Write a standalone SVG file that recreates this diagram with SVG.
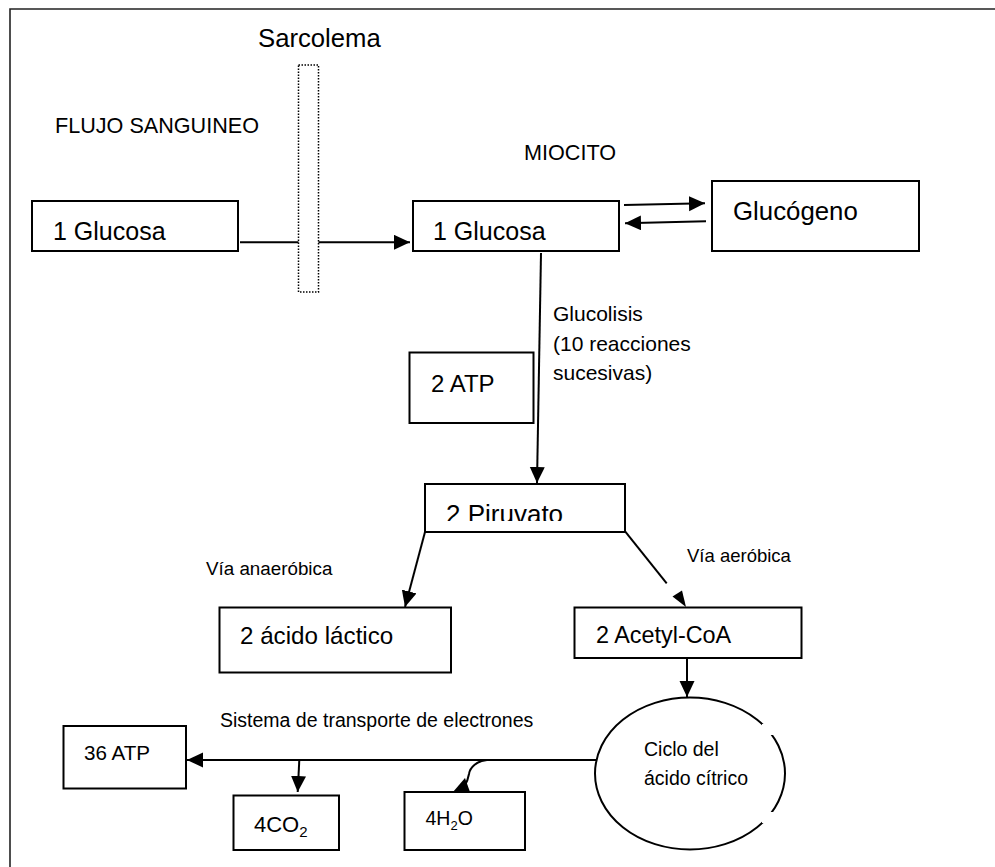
<svg xmlns="http://www.w3.org/2000/svg" width="995" height="867" viewBox="0 0 995 867">
<style>
text{font-family:"Liberation Sans",Arial,sans-serif;fill:#000}
.box{fill:#fff;stroke:#000;stroke-width:2}
.ln{fill:none;stroke:#000;stroke-width:2}
.lg{font-size:25px}
.md{font-size:21px}
.sm{font-size:19.5px}
</style>
<defs>
<marker id="ah" markerUnits="userSpaceOnUse" markerWidth="17" markerHeight="16" refX="16" refY="7.5" orient="auto">
<path d="M0,0 L16,7.5 L0,15 z" fill="#000"/>
</marker>
<clipPath id="pirclip"><rect x="425" y="484" width="200" height="37"/></clipPath>
</defs>
<rect width="995" height="867" fill="#fff"/>
<path d="M10,867 V9 H995" fill="none" stroke="#222" stroke-width="1.6"/>

<g id="labels">
<text x="258" y="46.5" style="font-size:25.7px">Sarcolema</text>
<text x="55" y="133" style="font-size:21.6px">FLUJO SANGUINEO</text>
<text x="524" y="160" style="font-size:21.6px">MIOCITO</text>
<text x="553" y="321" class="md">Glucolisis</text>
<text x="553" y="350.5" class="md">(10 reacciones</text>
<text x="553" y="380" class="md">sucesivas)</text>
<text x="206" y="575" style="font-size:18.8px">Vía anaeróbica</text>
<text x="687" y="562" style="font-size:18.5px">Vía aeróbica</text>
<text x="220" y="727" class="sm">Sistema de transporte de electrones</text>
</g>

<g id="connectors">
<line x1="240" y1="242.3" x2="410" y2="242.3" class="ln" marker-end="url(#ah)"/>
<line x1="624" y1="205" x2="705" y2="203.3" class="ln" marker-end="url(#ah)"/>
<line x1="706" y1="221.3" x2="625" y2="223.3" class="ln" marker-end="url(#ah)"/>
<line x1="541" y1="253" x2="537" y2="483" class="ln" stroke-width="1.7" marker-end="url(#ah)"/>
<line x1="425" y1="532" x2="405" y2="607" class="ln" marker-end="url(#ah)"/>
<line x1="625.3" y1="531.7" x2="666.7" y2="583.3" class="ln"/>
<path d="M686,607 L672.5,596.5 L682,590.5 z" fill="#000"/>
<line x1="687" y1="658" x2="687" y2="697" class="ln" marker-end="url(#ah)"/>
<line x1="597" y1="760" x2="187" y2="760" class="ln" stroke-width="2.3" marker-end="url(#ah)"/>
<line x1="299.3" y1="760" x2="297.7" y2="792" class="ln" marker-end="url(#ah)"/>
<path d="M487,760 C477,761 470,767 469,774 C468,780 466,784 464,787" class="ln"/>
<path d="M453,792 L470,792 L465,778 z" fill="#000"/>
</g>

<g id="sarcolema">
<rect x="298.5" y="65" width="20" height="227" fill="#fff" stroke="#000" stroke-width="1.5" stroke-dasharray="1.5 1.5"/>
</g>

<g id="glucosa-sangre">
<rect x="32" y="201" width="206" height="50" class="box"/>
<text x="53" y="240" class="lg">1 Glucosa</text>
</g>

<g id="glucosa-miocito">
<rect x="413" y="201" width="206" height="50" class="box"/>
<text x="433" y="240" class="lg">1 Glucosa</text>
</g>

<g id="glucogeno">
<rect x="712" y="181" width="207" height="70" class="box"/>
<text x="733" y="220" style="font-size:25.8px">Glucógeno</text>
</g>

<g id="atp2">
<rect x="409.5" y="352.5" width="124" height="70.5" class="box"/>
<text x="431" y="391.7" style="font-size:24px">2 ATP</text>
</g>

<g id="piruvato">
<rect x="425" y="484" width="200" height="48" class="box"/>
<text x="446" y="523" clip-path="url(#pirclip)" style="font-size:26px">2 Piruvato</text>
</g>

<g id="acido-lactico">
<rect x="219.5" y="607.5" width="231.5" height="65" class="box"/>
<text x="240" y="644" style="font-size:24.2px">2 ácido láctico</text>
</g>

<g id="acetyl-coa">
<rect x="574.5" y="607.5" width="227" height="50.5" class="box"/>
<text x="596" y="643.3" style="font-size:23.4px">2 Acetyl-CoA</text>
</g>

<g id="ciclo-citrico">
<ellipse cx="690" cy="773.5" rx="95" ry="76" fill="#fff" stroke="#000" stroke-width="2"/>
<rect x="762" y="724" width="14" height="11" fill="#fff"/>
<rect x="762" y="812" width="14" height="11" fill="#fff"/>
<text x="644" y="756" class="sm">Ciclo del</text>
<text x="644" y="785" class="sm">ácido cítrico</text>
</g>

<g id="atp36">
<rect x="63.5" y="726" width="122.5" height="62.5" class="box"/>
<text x="84" y="759.5" style="font-size:20.6px">36 ATP</text>
</g>

<g id="co2">
<rect x="233.5" y="795.5" width="105.5" height="54.5" class="box"/>
<text x="254" y="832" style="font-size:22px">4CO<tspan dy="5" style="font-size:15px">2</tspan></text>
</g>

<g id="h2o">
<rect x="404.5" y="792" width="120.5" height="58" class="box"/>
<text x="425.5" y="825" class="sm">4H<tspan dy="5" style="font-size:13px">2</tspan><tspan dy="-5">O</tspan></text>
</g>
</svg>
